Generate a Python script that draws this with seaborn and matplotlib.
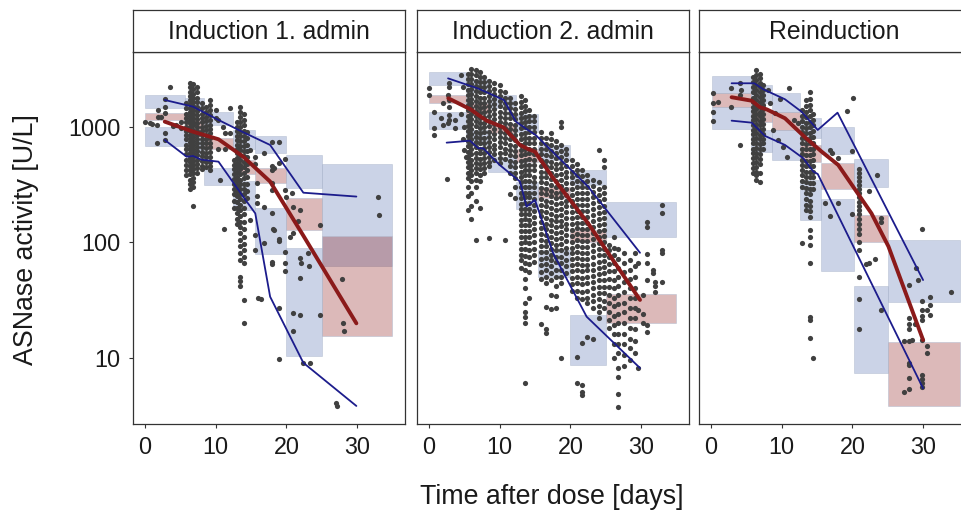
import numpy as np
import pandas as pd
import matplotlib
matplotlib.use("Agg")
import matplotlib.pyplot as plt
import seaborn as sns

# facet titles
panels = ["Induction 1. admin", "Induction 2. admin", "Reinduction"]

# ---------------- Induction 1. admin ----------------
ind1_bins = [0, 5.6, 8.4, 12.5, 15.6, 20, 25, 35]
ind1_hi_ci = [(1452, 1897), (1400, 1800), (1040, 1350), (650, 950), (592, 836), (298, 571), (62.7, 477)]
ind1_med_ci = [(1150, 1330), (950, 1150), (650, 800), (390, 520), (325, 438), (128, 241), (15.5, 114)]
ind1_lo_ci = [(689, 994), (560, 760), (314, 438), (190, 340), (79, 197), (10.3, 89), None]

ind1_t95 = [2.8, 6.8, 10.4, 13.9, 17.7, 22.4, 29.9]
ind1_p95 = [1714, 1500, 1150, 900, 698, 269, 249]
ind1_t50 = [2.8, 6.8, 10.4, 13.9, 17.7, 22.4, 29.9]
ind1_p50 = [1112, 910, 782, 552, 336, 114, 19.8]
ind1_t05 = [2.8, 5.9, 6.8, 8.0, 10.4, 13.9, 15.6, 17.7, 22.4, 29.9]
ind1_p05 = [771, 552, 560, 520, 500, 248, 178, 33.7, 9.0, 3.8]

ind1_obs = [
    (0.0, [1110]), (0.7, [1080]), (1.0, [1060]), (1.7, [1040, 730]), (1.9, [1400, 1230]),
    (2.3, [1230]), (2.9, [1740, 1500, 1310, 880, 770]), (3.6, [2210]), (3.9, [1010]),
    (4.4, [1040]), (5.1, [1110, 980]),
    (5.8, [1600, 1450, 1300, 1200, 1100, 1000, 920, 850, 780, 700, 640, 580, 520, 470, 420, 380]),
    (6.3, [2400, 2200, 2000, 1850, 1700, 1580, 1460, 1350, 1250, 1160, 1080, 1000, 930, 860,
           800, 740, 690, 640, 590, 540, 500, 460, 420, 390, 350, 320, 290]),
    (6.8, [2350, 2150, 1950, 1800, 1650, 1520, 1400, 1300, 1200, 1110, 1030, 950, 880, 820,
           760, 700, 650, 600, 550, 510, 470, 430, 400, 360, 330, 300, 207]),
    (7.3, [2200, 2000, 1800, 1650, 1500, 1380, 1270, 1170, 1080, 1000, 920, 850, 790, 730,
           670, 620, 570, 520, 480, 440, 400]),
    (8.0, [1600, 1450, 1300, 1200, 1100, 1000, 930, 860, 790, 730, 670, 610, 560, 510, 460, 430]),
    (8.6, [1500, 1350, 1230, 1120, 1020, 940, 860, 790, 720, 660, 600, 550, 500, 450]),
    (9.2, [1700, 1550, 1400, 1270, 1150, 1050, 960, 880, 800, 730, 670, 610, 550, 500, 460, 420]),
    (10.0, [1400, 1200]), (10.3, [1150, 640]), (10.6, [347]), (11.0, [1000]), (11.3, [890, 650]),
    (11.2, [130]), (12.0, [1450, 880]),
    (12.6, [520, 470, 430, 390, 355, 320, 290, 260, 230, 200]),
    (13.0, [1100, 1000, 920, 840, 770, 700, 640, 590, 540, 490, 450, 410, 370, 340, 310, 280,
            250, 225, 200, 180, 160, 145]),
    (13.5, [1500, 1350, 1220, 1100, 1000, 910, 830, 760, 690, 630, 570, 520, 470, 430, 390, 350,
            320, 290, 260, 235, 210, 190, 170, 150, 135, 120, 105, 92, 80, 70, 50, 46, 42]),
    (14.0, [1300, 1150, 1030, 930, 840, 760, 690, 620, 560, 500, 450, 400, 360, 320, 290, 260,
            230, 200, 175, 150, 130, 112, 96, 85, 74, 66, 31.6, 20]),
    (14.5, [900, 800, 700, 620, 550, 480, 420, 370, 320, 280, 240]),
    (14.9, [630, 157]), (15.6, [550, 480, 115, 86]), (15.8, [325, 250, 220]), (16.0, [33]),
    (16.4, [32]), (16.8, [590, 204, 98]), (17.9, [747, 460, 424, 328, 284, 178, 68, 65]),
    (18.1, [130]), (18.2, [440, 128]), (19.0, [747, 484, 106, 103, 27, 9.7]),
    (19.8, [525, 284, 83, 66, 56]), (20.0, [245]), (20.5, [112]), (20.75, [269]), (20.9, [17.1]),
    (21.0, [204, 120, 24.2]), (21.7, [153]), (21.9, [191, 73, 48.7, 23.4]), (22.1, [66]),
    (22.4, [8.9]), (23.0, [81]), (23.2, [62]), (23.4, [8.9]), (24.8, [141, 23.4]),
    (27.0, [4.0]), (27.2, [3.8]), (27.8, [47.7]), (28.0, [19.8]), (28.1, [17]),
    (32.9, [245]), (33.1, [173]),
]

# ---------------- Induction 2. admin ----------------
ind2_bins = [0, 5.3, 8.3, 12.3, 15.4, 20, 25, 35]
ind2_hi_ci = [(2312, 2978), (2000, 2600), (1452, 1900), (900, 1300), (520, 700), (314, 424), (110, 222)]
ind2_med_ci = [(1604, 1897), (1300, 1600), (880, 1050), (500, 650), (240, 300), (101, 128), (20.1, 35.6)]
ind2_lo_ci = [(962, 1340), (700, 950), (409, 552), (193, 336), (50, 86), (8.6, 23.4), None]

ind2_t95 = [2.7, 7.0, 10.6, 12.3, 13.9, 15.1, 17.6, 22.5, 29.85]
ind2_p95 = [2640, 2150, 1714, 1112, 950, 850, 600, 304, 81]
ind2_t50 = [2.73, 5.9, 6.98, 8.16, 10.51, 12.87, 14.0, 14.99, 17.58, 22.5, 29.85]
ind2_p50 = [1774, 1420, 1270, 1135, 994, 698, 644, 611, 359, 146, 31.6]
ind2_t05 = [2.5, 5.8, 6.98, 7.68, 10.0, 12.87, 13.8, 14.99, 17.58, 22.3, 29.85]
ind2_p05 = [731, 760, 653, 653, 468, 336, 204, 233, 80, 22.6, 8.1]

ind2_obs = [
    (0.05, [2160, 1897]), (0.75, [1358, 974, 852]), (1.7, [1190]), (2.0, [1600, 1050]),
    (2.5, [355]), (2.64, [1897, 1076]), (2.87, [2400, 2200, 1714, 1500, 1270, 1150]),
    (3.7, [1150, 974]), (4.5, [2820, 1300]), (4.76, [2240, 780]), (5.0, [631, 1000]), (5.2, [552]),
    (5.5, [2900, 2600, 2350, 2100, 1900, 1700, 1550, 1400, 1250, 1130, 1020, 920, 830, 750, 680,
           610, 550, 500, 450, 400, 360, 300, 250, 190]),
    (6.0, [3200, 2900, 2600, 2350, 2150, 1950, 1750, 1600, 1450, 1300, 1180, 1060, 960, 870, 790,
           710, 640, 580, 520, 470, 420, 380, 340, 270, 205, 160]),
    (6.6, [3100, 2800, 2500, 2250, 2050, 1850, 1680, 1520, 1380, 1250, 1120, 1010, 910, 820, 740,
           670, 600, 540, 490, 440, 400, 350, 300, 230, 105]),
    (7.2, [3000, 2700, 2450, 2200, 2000, 1800, 1620, 1470, 1330, 1200, 1080, 980, 890, 800, 720,
           650, 590, 530, 480, 430, 380, 340, 200]),
    (7.8, [2700, 2450, 2200, 2000, 1800, 1630, 1480, 1340, 1210, 1090, 990, 900, 810, 730, 660,
           600, 540, 490, 440, 400]),
    (8.5, [2500, 2250, 2050, 1850, 1670, 1510, 1370, 1240, 1120, 1010, 910, 820, 740, 670, 610,
           550, 500, 460, 108]),
    (9.2, [2400, 2150, 1950, 1750, 1580, 1430, 1300, 1170, 1060, 960, 870, 780, 700, 640, 580, 520]),
    (10.0, [2300, 2050, 1850, 1670, 1510, 1360, 1230, 1110, 1000, 900, 820, 740, 670, 600, 540, 490]),
    (10.7, [2000, 1800, 1620, 1470, 1330, 1200, 1080, 980, 880, 800, 720, 650, 590, 530, 105]),
    (11.4, [1800, 1620, 1460, 1320, 1190, 1070, 960, 870, 780, 700, 630, 570, 510, 460, 400, 260]),
    (12.1, [1600, 1440, 1300, 1170, 1050, 950, 850, 770, 690, 620, 560, 500, 450, 400, 360, 300, 240]),
    (13.0, [1850, 1650, 1480, 1330, 1200, 1080, 970, 870, 780, 700, 630, 570, 510, 460, 410, 370,
            330, 300, 270, 240, 215, 195, 175, 155, 140, 125, 110, 98, 88, 78, 70, 60]),
    (13.6, [1700, 1520, 1370, 1230, 1100, 990, 890, 800, 720, 650, 580, 520, 470, 420, 380, 340,
            300, 270, 245, 220, 195, 175, 158, 140, 125, 112, 100, 88, 76, 66, 58, 48, 40, 30, 25,
            22.6, 19.8, 6.0]),
    (14.2, [1400, 1250, 1120, 1000, 900, 810, 730, 650, 590, 530, 470, 420, 380, 340, 300, 270,
            245, 220, 195, 175, 155, 140, 125, 110, 98, 86, 75, 65, 55, 32.9]),
    (14.9, [1250, 1120, 1000, 900, 800, 720, 650, 580, 520, 470, 420, 370, 330, 300, 265, 235,
            210, 185, 165, 148, 130, 115, 100, 88, 78, 68]),
    (15.8, [900, 800, 720, 640, 580, 520, 460, 410, 370, 330, 295, 265, 235, 210, 188, 168, 150,
            133, 118, 105, 93, 82, 72, 63, 55, 48, 19.6]),
    (16.5, [800, 710, 640, 570, 510, 460, 410, 365, 325, 290, 260, 230, 205, 183, 163, 145, 130,
            116, 103, 92, 82, 73, 65, 57, 50, 44, 27.5, 17.8, 16.4]),
    (17.3, [880, 780, 700, 620, 560, 500, 450, 400, 355, 315, 280, 250, 222, 198, 176, 157, 140,
            125, 111, 99, 88, 78, 70, 62, 54, 47, 35, 26.3]),
    (18.0, [750, 670, 600, 540, 480, 430, 380, 340, 300, 270, 240, 213, 190, 170, 152, 135, 120,
            107, 95, 85, 75, 67, 58, 50, 42, 34, 26.7]),
    (18.7, [1100, 1000, 700, 620, 550, 490, 440, 390, 350, 310, 275, 245, 218, 194, 173, 154, 137,
            122, 108, 96, 85, 75, 66, 58, 50, 44, 9.9]),
    (19.4, [650, 580, 520, 460, 410, 365, 325, 290, 258, 230, 205, 183, 163, 145, 129, 115, 102,
            90, 80, 70, 62, 54]),
    (20.2, [520, 460, 410, 365, 325, 290, 258, 230, 205, 182, 162, 144, 128, 114, 101, 90, 80, 71,
            63, 56, 49, 43, 38]),
    (20.9, [480, 425, 380, 340, 300, 268, 238, 212, 188, 167, 148, 132, 117, 104, 92, 82, 73, 65,
            57, 50, 44, 38, 33, 10.2, 6.0]),
    (21.6, [420, 375, 335, 300, 265, 236, 210, 187, 166, 148, 131, 116, 103, 91, 81, 72, 64, 56,
            49, 43, 37, 32, 13.3, 5.75, 5.0, 4.7]),
    (22.4, [380, 340, 300, 268, 238, 212, 188, 167, 148, 131, 116, 103, 91, 81, 72, 64, 57, 50, 44,
            38, 33, 29.6, 15.2]),
    (23.2, [350, 310, 275, 245, 218, 194, 172, 153, 136, 121, 107, 95, 84, 74, 65, 58, 51, 45, 40,
            35, 31, 27, 14.4]),
    (24.0, [631, 330, 290, 258, 228, 202, 179, 159, 141, 125, 111, 98, 87, 77, 68, 60, 53, 47, 41,
            36, 32, 28, 25, 22]),
    (24.8, [518, 453, 300, 265, 235, 208, 184, 163, 144, 128, 113, 100, 88, 78, 69, 61, 54, 47, 41,
            36, 31, 27]),
    (25.5, [95, 85, 74, 65, 56, 48, 41, 35, 30, 25, 21, 18]),
    (26.2, [110, 90, 78, 66, 56, 47, 40, 33, 28, 23, 19, 16, 13, 10]),
    (26.8, [88, 72, 60, 50, 42, 35, 29, 24, 20, 16, 13, 11, 8.1, 6.8, 4.8, 3.7]),
    (27.6, [80, 66, 55, 45, 37, 30, 25, 20, 16, 13, 10.5, 8.5]),
    (28.4, [70, 58, 48, 40, 33, 27, 22, 18, 14.5, 12, 9.5]),
    (29.1, [80, 62, 50, 40, 33, 27, 22, 17.5, 14, 11]),
    (29.6, [66, 26, 8.1]), (30.3, [35, 24, 19.8]), (30.8, [151, 136, 79, 66, 47, 19, 16.8]),
    (31.7, [58, 54]), (32.0, [45, 42, 37]), (32.9, [210, 180, 86, 80, 45]),
]

# ---------------- Reinduction ----------------
rei_bins = [0.2, 5.6, 8.6, 12.6, 15.6, 20.2, 25.1, 35.2]
rei_hi_ci = [(1982, 2767), (1600, 2300), (1358, 1958), (800, 1190), (583, 994), (300, 528), (30.6, 105)]
rei_med_ci = [(1500, 1982), (1100, 1400), (942, 1358), (500, 700), (288, 484), (100, 173), (3.83, 13.6)]
rei_lo_ci = [(955, 1500), (611, 942), (517, 942), (156, 347), (56.8, 236), (7.3, 41.8), None]

rei_t95 = [2.92, 6.13, 7.4, 10.47, 12.8, 15.1, 17.9, 30.0]
rei_p95 = [2393, 2393, 2123, 1738, 1358, 942, 1330, 47]
rei_t50 = [2.92, 5.75, 6.93, 7.87, 10.47, 13.3, 15.65, 18.0, 22.7, 25.1, 30.0]
rei_p50 = [1811, 1690, 1482, 1423, 1189, 814, 611, 468, 178, 92, 14.2]
rei_t05 = [2.92, 5.75, 7.64, 10.47, 13.06, 14.5, 15.1, 30.0]
rei_p05 = [1134, 1090, 836, 698, 535, 409, 391, 5.4]

rei_obs = [
    (0.28, [1960, 1603, 1358, 1134]), (1.0, [1650]), (2.9, [2160, 1500]),
    (4.05, [2395, 1897, 698]), (4.3, [2100]),
    (5.9, [2700, 2450, 2200, 2000, 1800, 1650, 1500, 1370, 1250, 1140, 1040, 950, 870, 790, 720,
           650, 590, 540, 490, 440, 400]),
    (6.4, [3100, 2800, 2550, 2300, 2100, 1900, 1720, 1560, 1420, 1290, 1170, 1060, 970, 880, 800,
           730, 660, 600, 550, 500, 450, 410, 383, 350]),
    (6.9, [2900, 2650, 2400, 2200, 2000, 1820, 1650, 1500, 1360, 1240, 1130, 1030, 940, 850, 780,
           710, 640, 580, 530, 480, 397, 330]),
    (7.4, [2300, 2100, 1900, 1720, 1560, 1420, 1290, 1170, 1060, 960, 870, 790, 720, 650]),
    (8.06, [2095]), (8.3, [1603]), (8.8, [942]), (9.0, [1314]), (9.5, [771]), (9.7, [1740]),
    (10.2, [675]), (10.7, [552]), (11.1, [2162]), (11.8, [1150]), (12.3, [1076]),
    (12.9, [1400, 1250, 1120, 1000, 900, 810, 730, 650, 580, 520, 470, 420, 380, 340, 300, 98]),
    (13.5, [1700, 1520, 1360, 1220, 1090, 980, 880, 790, 710, 640, 570, 510, 460, 410, 370, 330,
            295, 265, 235, 210, 190]),
    (14.0, [2000, 1750, 1560, 1390, 1240, 1110, 990, 890, 800, 720, 640, 570, 510, 460, 410, 365,
            325, 290, 260, 230, 205, 185, 165, 128, 112, 95, 66, 22.6, 21, 14.7]),
    (14.5, [1300, 1150, 1030, 920, 820, 730, 650, 580, 520, 460, 410, 365, 325, 290, 10]),
    (16.1, [218]), (16.8, [631, 170]), (17.1, [600]), (18.0, [535, 218]), (19.2, [1380]),
    (19.9, [615, 175]), (20.1, [1770]),
    (20.9, [435, 400, 370, 340, 315, 290, 265, 245, 225, 205, 190, 175, 160, 145, 130, 118, 100,
            86, 50, 32.5, 17.8]),
    (21.9, [65]), (22.3, [278, 66]), (23.2, [71]), (23.5, [380]), (24.1, [163, 149, 26]),
    (27.3, [13.9, 5.0]), (28.0, [42.7, 22, 19.5, 17.5, 13.9, 8.9, 8.6, 6.7, 5.3]), (28.5, [14.2]),
    (28.9, [19.5]), (29.0, [60]), (29.3, [47]),
    (29.9, [130, 31, 26, 23, 21, 14.2, 7.0, 6.5, 6.0, 5.5]),
    (30.5, [26, 12.6, 11.0]), (31.0, [33.7, 28.5, 23.4]), (33.9, [36.8]),
]

panel_data = [
    (ind1_bins, ind1_hi_ci, ind1_med_ci, ind1_lo_ci, ind1_t95, ind1_p95, ind1_t50, ind1_p50,
     ind1_t05, ind1_p05, ind1_obs),
    (ind2_bins, ind2_hi_ci, ind2_med_ci, ind2_lo_ci, ind2_t95, ind2_p95, ind2_t50, ind2_p50,
     ind2_t05, ind2_p05, ind2_obs),
    (rei_bins, rei_hi_ci, rei_med_ci, rei_lo_ci, rei_t95, rei_p95, rei_t50, rei_p50,
     rei_t05, rei_p05, rei_obs),
]

blue_fill = (50 / 255, 80 / 255, 160 / 255, 0.25)
red_fill = (139 / 255, 26 / 255, 26 / 255, 0.30)
box_edge = (0.70, 0.74, 0.82, 0.6)
blue_line = "#1c1c8c"
red_line = "#8b1a1a"
frame = "#333333"

sns.set_theme(style="white")
plt.rcParams["font.family"] = ["Liberation Sans", "DejaVu Sans"]

fig = plt.figure(figsize=(9.62, 5.12), dpi=100)
W, H = 962.0, 512.0
lefts = [132.6, 416.6, 698.6]
pw = 272.2
top, bottom = 52.0, 424.0


def draw_boxes(ax, bins, ci, fill):
    for i, rng in enumerate(ci):
        if rng is None:
            continue
        ax.bar(bins[i], rng[1] - rng[0], bottom=rng[0], width=bins[i + 1] - bins[i],
               align="edge", color=fill, edgecolor=box_edge, linewidth=0.6, zorder=1)


for k, (title, data) in enumerate(zip(panels, panel_data)):
    bins, hi_ci, med_ci, lo_ci, t95, p95, t50, p50, t05, p05, obs = data
    ax = fig.add_axes([lefts[k] / W, (H - bottom) / H, pw / W, (bottom - top) / H])
    ax.set_yscale("log")

    draw_boxes(ax, bins, hi_ci, blue_fill)
    draw_boxes(ax, bins, lo_ci, blue_fill)
    draw_boxes(ax, bins, med_ci, red_fill)

    rows = [(d, v) for d, vals in obs for v in vals]
    df = pd.DataFrame(rows, columns=["day", "activity"])
    sns.scatterplot(data=df, x="day", y="activity", ax=ax, color="#404040", s=14,
                    linewidth=0, zorder=3)

    sns.lineplot(x=t95, y=p95, ax=ax, color=blue_line, linewidth=1.3, estimator=None, zorder=4)
    sns.lineplot(x=t05, y=p05, ax=ax, color=blue_line, linewidth=1.3, estimator=None, zorder=4)
    sns.lineplot(x=t50, y=p50, ax=ax, color=red_line, linewidth=2.8, estimator=None, zorder=5)

    ax.set_xlim(-1.75, 36.75)
    ax.set_ylim(2.65, 4470)
    ax.set_xticks([0, 10, 20, 30])
    ax.set_xticklabels(["0", "10", "20", "30"])
    ax.minorticks_off()
    ax.set_xlabel("")
    ax.set_ylabel("")
    if k == 0:
        ax.set_yticks([10, 100, 1000])
        ax.set_yticklabels(["10", "100", "1000"])
        ax.tick_params(axis="y", length=3.2, width=0.8, color=frame, pad=5.5,
                       labelsize=16.8, labelcolor="#1a1a1a", left=True)
    else:
        ax.set_yticks([10, 100, 1000])
        ax.set_yticklabels([])
        ax.tick_params(axis="y", length=0)
    ax.tick_params(axis="x", length=3.2, width=0.8, color=frame, pad=5.5,
                   labelsize=16.8, labelcolor="#1a1a1a", bottom=True)
    for sp in ax.spines.values():
        sp.set_color(frame)
        sp.set_linewidth(0.9)
    ax.set_facecolor("white")

    # facet strip
    sax = fig.add_axes([lefts[k] / W, (H - top) / H, pw / W, 42.5 / H])
    sax.set_xticks([])
    sax.set_yticks([])
    sax.set_facecolor("white")
    for sp in sax.spines.values():
        sp.set_color(frame)
        sp.set_linewidth(0.9)
    sax.text(0.5, 0.47, title, ha="center", va="center", fontsize=17.8, color="#1a1a1a",
             transform=sax.transAxes)

fig.text((lefts[0] + lefts[2] + pw) / 2 / W, (H - 497) / H, "Time after dose [days]",
         ha="center", va="center", fontsize=19.3, color="#1a1a1a")
fig.text(26.5 / W, (H - 240) / H, "ASNase activity [U/L]", ha="center", va="center",
         rotation=90, fontsize=19.3, color="#1a1a1a")

fig.savefig("out.png", dpi=100)
